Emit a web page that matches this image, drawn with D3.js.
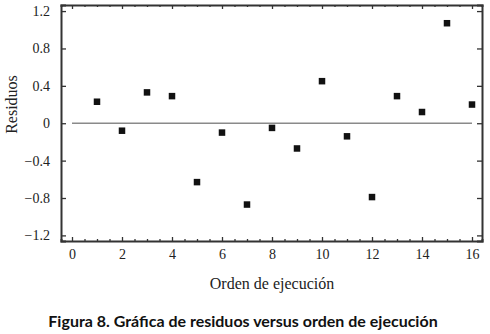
<!DOCTYPE html>
<html>
<head>
<meta charset="utf-8">
<script src="https://cdn.jsdelivr.net/npm/d3@7"></script>
<style>
  body { margin: 0; background: #fff; }
  svg { display: block; }
</style>
</head>
<body>
<div id="chart"></div>
<script>
// Data
var orden = [1, 2, 3, 4, 5, 6, 7, 8, 9, 10, 11, 12, 13, 14, 15, 16];
var residuos = [0.23, -0.08, 0.33, 0.29, -0.63, -0.10, -0.87, -0.05, -0.27, 0.45, -0.14, -0.79, 0.29, 0.12, 1.07, 0.20];
var xTicks = [0, 2, 4, 6, 8, 10, 12, 14, 16];
var yTicks = [-1.2, -0.8, -0.4, 0, 0.4, 0.8, 1.2];

var svgWidth = 490;
var svgHeight = 334;

var margin = { top: 5, right: 8, bottom: 93, left: 61 };
var chartWidth = svgWidth - margin.left - margin.right;
var chartHeight = svgHeight - margin.top - margin.bottom;

var svg = d3.select("#chart")
  .append("svg")
  .attr("width", svgWidth)
  .attr("height", svgHeight);

var chartGroup = svg.append("g")
  .attr("transform", `translate(${margin.left}, ${margin.top})`);

var xScale = d3.scaleLinear()
  .domain([-0.44, 16.4])
  .range([0, chartWidth]);

var yScale = d3.scaleLinear()
  .domain([-1.26, 1.265])
  .range([chartHeight, 0]);

var serif = "'Liberation Serif', 'Times New Roman', serif";
var axisColor = "#333";

// minor ticks every 0.5 on x
var xMinor = d3.range(0, 16.01, 0.5);

// bottom axis: ticks inward
var bottomAxis = chartGroup.append("g")
  .attr("transform", `translate(0, ${chartHeight})`)
  .call(d3.axisBottom(xScale).tickValues(xMinor).tickSize(-2).tickFormat(""));
bottomAxis.selectAll(".tick line")
  .attr("y2", (d) => d % 2 === 0 ? -4 : -2);

var bottomLabels = chartGroup.append("g")
  .attr("transform", `translate(0, ${chartHeight})`)
  .call(d3.axisBottom(xScale).tickValues(xTicks).tickSize(0).tickPadding(8).tickFormat(d3.format("d")));
bottomLabels.select(".domain").remove();

// top axis
var topAxis = chartGroup.append("g")
  .call(d3.axisTop(xScale).tickValues(xMinor).tickSize(-2).tickFormat(""));
topAxis.selectAll(".tick line")
  .attr("y2", (d) => d % 2 === 0 ? 4 : 2);

// left axis
var leftAxis = chartGroup.append("g")
  .call(d3.axisLeft(yScale).tickValues(yTicks).tickSize(-5).tickPadding(11)
    .tickFormat((d) => d === 0 ? "0" : d3.format(".1f")(d)));

// right axis
var rightAxis = chartGroup.append("g")
  .attr("transform", `translate(${chartWidth}, 0)`)
  .call(d3.axisRight(yScale).tickValues(yTicks).tickSize(-5).tickFormat(""));

chartGroup.selectAll("g")
  .attr("font-family", serif)
  .attr("font-size", 14);
chartGroup.selectAll(".domain")
  .attr("stroke", axisColor)
  .attr("stroke-width", 2);
chartGroup.selectAll(".tick line")
  .attr("stroke", axisColor)
  .attr("stroke-width", 1.3);
chartGroup.selectAll(".tick text")
  .style("font-family", serif)
  .style("font-size", "14px")
  .attr("fill", "#222");

// zero reference line
chartGroup.append("line")
  .attr("x1", xScale(0))
  .attr("x2", xScale(16))
  .attr("y1", yScale(0))
  .attr("y2", yScale(0))
  .attr("stroke", "#8a8a8a")
  .attr("stroke-width", 1.4);

// points
var size = 6.5;
chartGroup.selectAll("rect.pt")
  .data(orden)
  .enter()
  .append("rect")
  .attr("class", "pt")
  .attr("x", (d) => xScale(d) - size / 2)
  .attr("y", (d, i) => yScale(residuos[i]) - size / 2)
  .attr("width", size)
  .attr("height", size)
  .attr("fill", "#111");

// axis titles
svg.append("text")
  .attr("transform", `translate(17, ${margin.top + yScale(0.2)}) rotate(-90)`)
  .attr("text-anchor", "middle")
  .style("font-family", serif)
  .style("font-size", "16px")
  .attr("fill", "#222")
  .text("Residuos");

svg.append("text")
  .attr("x", margin.left + xScale(8))
  .attr("y", 289)
  .attr("text-anchor", "middle")
  .style("font-family", serif)
  .style("font-size", "16px")
  .attr("fill", "#222")
  .text("Orden de ejecución");

// caption
svg.append("text")
  .attr("x", 243)
  .attr("y", 327)
  .attr("text-anchor", "middle")
  .style("font-family", "Lato, 'Open Sans', sans-serif")
  .style("font-weight", "bold")
  .style("font-size", "16px")
  .attr("fill", "#111")
  .text("Figura 8. Gráfica de residuos versus orden de ejecución");
</script>
</body>
</html>
